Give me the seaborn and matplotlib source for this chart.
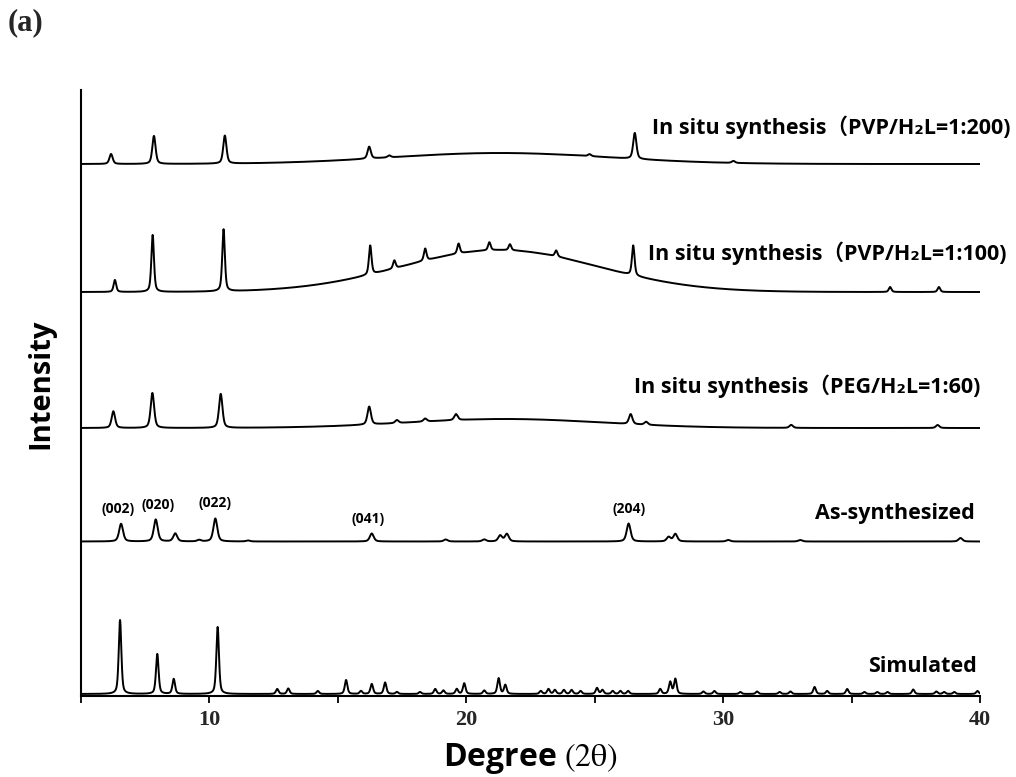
import numpy as np
import pandas as pd
import matplotlib
matplotlib.use("Agg")
import matplotlib.pyplot as plt
from matplotlib.ticker import FixedLocator
import seaborn as sns

# ---- diffraction data (2-theta in degrees, intensities in arbitrary units) ----
sim_pos = [6.52, 7.97, 8.61, 10.32, 12.64, 13.07, 14.22, 15.32, 15.9, 16.32, 16.84,
           17.3, 18.2, 18.79, 19.11, 19.63, 19.92, 20.7, 21.26, 21.52, 22.9, 23.2,
           23.45, 23.8, 24.1, 24.45, 25.09, 25.3, 25.7, 26.0, 26.3, 27.55, 27.94,
           28.14, 29.23, 29.66, 30.67, 31.32, 32.2, 32.62, 33.56, 34.05, 34.83,
           35.5, 36.0, 36.4, 37.4, 38.3, 38.6, 39.0, 39.9]
sim_int = [74, 40, 15, 67, 5, 5.5, 3, 14, 3, 10, 11.5,
           2, 2, 5, 3.5, 5, 10.7, 3.5, 15.7, 9, 3, 5,
           4, 4, 4, 3, 6, 4, 3, 3, 3, 5, 12,
           15, 2.5, 3, 2, 2.5, 2, 2.5, 7, 3, 5,
           2, 2, 2, 4.5, 2.5, 2, 2, 3]

asyn_pos = [6.56, 7.91, 8.67, 9.6, 10.23, 11.5, 16.32, 19.2, 20.7, 21.32, 21.58,
            26.32, 27.88, 28.14, 30.2, 33.0, 39.24]
asyn_int = [17.7, 22, 8, 1.5, 23, 1, 8, 2, 2, 6, 7.5,
            18, 4.5, 7.5, 1.5, 1.5, 3.5]

peg60_pos = [6.26, 7.78, 10.44, 16.22, 17.3, 18.4, 19.6, 26.4, 27.0, 32.65, 38.35]
peg60_int = [16.7, 35, 34, 18, 3, 3, 6, 10, 3, 3, 3]

pvp100_pos = [6.32, 7.79, 10.55, 16.26, 17.2, 18.4, 19.7, 20.9, 21.7, 23.5, 26.5, 36.5, 38.4]
pvp100_int = [12, 57, 62, 29, 8, 12, 10, 8, 6, 6, 30, 5, 5]

pvp200_pos = [6.17, 7.84, 10.6, 16.22, 17.0, 24.8, 26.56, 30.4]
pvp200_int = [10, 28, 28, 12, 2, 2, 26, 2]

# broad amorphous scattering: (centre, height, fwhm)
peg60_halo = (21.5, 9, 9.0)
pvp100_halo = (21.3, 42, 9.0)
pvp200_halo = (21.3, 11, 10.0)

hkl_labels = ["(002)", "(020)", "(022)", "(041)", "(204)"]
hkl_pos = [6.56, 7.91, 10.23, 16.32, 26.32]

sample_names = ["Simulated", "As-synthesized",
                "In situ synthesis\uff08PEG/H\u2082L=1:60)",
                "In situ synthesis\uff08PVP/H\u2082L=1:100)",
                "In situ synthesis\uff08PVP/H\u2082L=1:200)"]

# ---- layout / style ----
stack_offsets = [2, 154.5, 268, 404, 532]
peak_fwhm = [0.12, 0.18, 0.16, 0.12, 0.15]
label_x = [39.88, 39.8, 40.0, 41.05, 41.17]
label_y = [30, 182, 310, 443, 569]
hkl_nudge = [-0.12, 0.08, 0.0, -0.15, 0.0]

two_theta = np.arange(5.0, 40.0001, 0.01)


def pattern(offset, positions, heights, fwhm, halo=None, eta=0.5):
    y = np.full_like(two_theta, float(offset))
    hw = fwhm / 2.0
    sig = fwhm / 2.3548
    for p, h in zip(positions, heights):
        d = two_theta - p
        lor = 1.0 / (1.0 + (d / hw) ** 2)
        gau = np.exp(-0.5 * (d / sig) ** 2)
        y += h * (eta * lor + (1 - eta) * gau)
    if halo is not None:
        c, h, w = halo
        s = w / 2.3548
        y += h * np.exp(-0.5 * ((two_theta - c) / s) ** 2)
    return y


series = [
    (sim_pos, sim_int, None),
    (asyn_pos, asyn_int, None),
    (peg60_pos, peg60_int, peg60_halo),
    (pvp100_pos, pvp100_int, pvp100_halo),
    (pvp200_pos, pvp200_int, pvp200_halo),
]

frames = []
for i, (pos, inten, halo) in enumerate(series):
    y = pattern(stack_offsets[i], pos, inten, peak_fwhm[i], halo)
    frames.append(pd.DataFrame({"two_theta": two_theta, "intensity": y,
                                "sample": sample_names[i]}))
df = pd.concat(frames, ignore_index=True)

sns.set_theme(style="ticks")
plt.rcParams["font.family"] = ["Open Sans", "Noto Sans CJK KR", "DejaVu Sans"]
plt.rcParams["mathtext.fontset"] = "stix"

fig = plt.figure(figsize=(10.16, 7.77), dpi=100)
ax = fig.add_axes([81 / 1016, 1 - 696 / 777, 899 / 1016, 606 / 777])

for name in sample_names:
    sub = df[df["sample"] == name]
    sns.lineplot(data=sub, x="two_theta", y="intensity", ax=ax, color="black",
                 linewidth=1.4, estimator=None, sort=False)

ax.set_xlim(5, 40)
ax.set_ylim(0, 606)
ax.set_yticks([])
ax.xaxis.set_major_locator(FixedLocator([10, 20, 30, 40]))
ax.xaxis.set_minor_locator(FixedLocator([5, 15, 25, 35]))
ax.tick_params(axis="x", which="both", direction="out", length=5, width=1.3,
               color="black", pad=5)
for lab in ax.get_xticklabels():
    lab.set_fontfamily("Liberation Serif")
    lab.set_fontweight("bold")
    lab.set_fontsize(16)

for side in ["top", "right"]:
    ax.spines[side].set_visible(False)
for side in ["left", "bottom"]:
    ax.spines[side].set_linewidth(1.5)
    ax.spines[side].set_color("black")

ax.set_xlabel(r"Degree $(2\mathrm{\theta})$", fontsize=23, fontweight="bold",
              labelpad=8, color="black")
ax.set_ylabel("Intensity", fontsize=21, fontweight="bold", color="black")
ax.yaxis.set_label_coords(-0.028, 0.515)

for i, name in enumerate(sample_names):
    ax.text(label_x[i], label_y[i], name, ha="right", va="center",
            fontsize=15.5, fontweight="bold", color="black", clip_on=False)

# Miller indices above the as-synthesized reflections
asyn_lookup = dict(zip(asyn_pos, asyn_int))
for lab, p, dx in zip(hkl_labels, hkl_pos, hkl_nudge):
    top = stack_offsets[1] + asyn_lookup[p]
    ax.text(p + dx, top + 15, lab, ha="center", va="center", fontsize=10,
            fontweight="bold", color="black")

fig.text(8 / 1016, 1 - 23 / 777, "(a)", fontsize=22, fontweight="bold",
         family="Liberation Serif", va="center", ha="left")

fig.savefig("out.png", dpi=100)
